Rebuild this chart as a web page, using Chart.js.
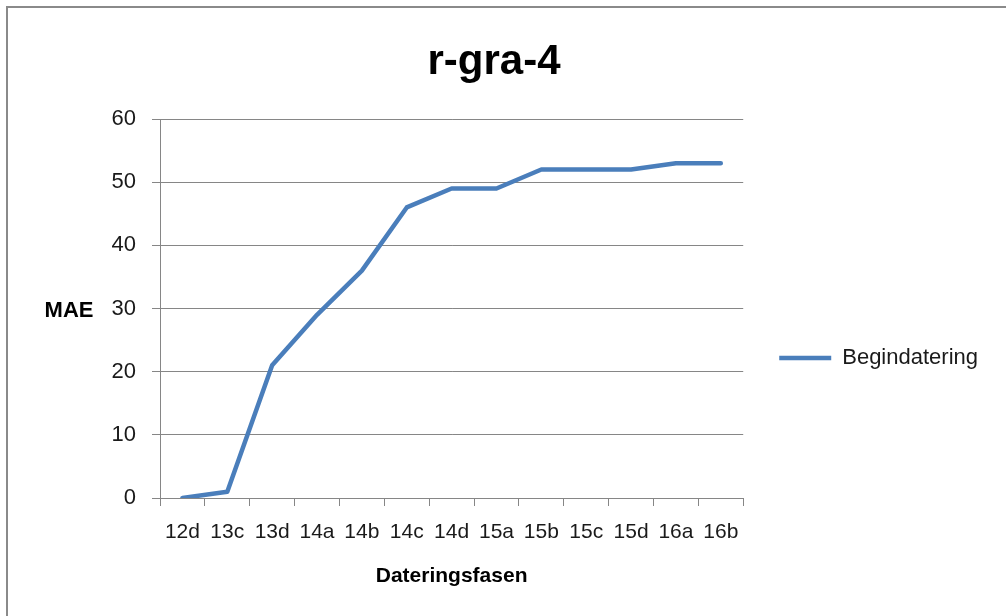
<!DOCTYPE html>
<html lang="nl">
<head>
  <meta charset="UTF-8">
  <title>r-gra-4</title>
  <script src="https://cdn.jsdelivr.net/npm/chart.js"></script>
  <style>
    html, body {
      margin: 0;
      padding: 0;
      background: #fff;
      overflow: hidden;
    }
    #wrap {
      position: relative;
      width: 1006px;
      height: 616px;
    }
    canvas {
      position: absolute;
      left: 0;
      top: 0;
    }
    .frame {
      position: absolute;
      left: 6px;
      top: 6px;
      width: 1100px;
      height: 700px;
      border: 2px solid #8a8a8a;
      pointer-events: none;
    }
  </style>
</head>
<body>

<div id="wrap">
  <canvas id="mae" width="1006" height="616"></canvas>
  <div class="frame"></div>
</div>

<script>
  const categories = ["12d", "13c", "13d", "14a", "14b", "14c", "14d", "15a", "15b", "15c", "15d", "16a", "16b"];
  const begindatering = [0, 1, 21, 29, 36, 46, 49, 49, 52, 52, 52, 53, 53];
  const yTickValues = [0, 10, 20, 30, 40, 50, 60];

  const FONT = "'Liberation Sans', Arial, sans-serif";
  const GRID = "#868686";
  const TEXT = "#1a1a1a";
  const BLUE = "#4A7EBB";

  Chart.defaults.font.family = FONT;
  Chart.defaults.color = TEXT;

  // Excel puts the y title horizontally, left of the tick labels
  const yTitlePlugin = {
    id: "yTitle",
    afterDraw(chart) {
      const ca = chart.chartArea;
      const ctx = chart.ctx;
      ctx.save();
      ctx.font = "bold 22px " + FONT;
      ctx.fillStyle = "#000";
      ctx.textAlign = "center";
      ctx.textBaseline = "middle";
      ctx.fillText("MAE", ca.left - 91, (ca.top + ca.bottom) / 2 + 2);
      ctx.restore();
    }
  };

  const chart = new Chart(document.getElementById("mae").getContext("2d"), {
    type: "line",
    data: {
      labels: categories,
      datasets: [{
        label: "Begindatering",
        data: begindatering,
        borderColor: BLUE,
        backgroundColor: BLUE,
        borderWidth: 4.5,
        borderCapStyle: "round",
        borderJoinStyle: "round",
        tension: 0,
        pointRadius: 0,
        fill: false
      }]
    },
    options: {
      responsive: false,
      animation: false,
      layout: {
        padding: { left: 0, right: 18, top: 0, bottom: 0 }
      },
      plugins: {
        title: {
          display: true,
          text: "r-gra-4",
          color: "#000",
          font: { size: 42, weight: "bold" },
          padding: { top: 37, bottom: 31.6 }
        },
        legend: {
          position: "right",
          title: {
            display: true,
            text: " ",
            font: { size: 10 },
            padding: { top: 0, bottom: 88 }
          },
          labels: {
            usePointStyle: true,
            pointStyle: "line",
            pointStyleWidth: 52,
            padding: 36,
            color: TEXT,
            font: { size: 22 }
          }
        },
        tooltip: { enabled: false }
      },
      scales: {
        x: {
          offset: true,
          grid: {
            offset: true,
            drawOnChartArea: false,
            drawTicks: true,
            tickLength: 8,
            color: GRID
          },
          border: { display: true, color: GRID },
          ticks: {
            padding: 14,
            maxRotation: 0,
            autoSkip: false,
            font: { size: 21 }
          },
          title: {
            display: true,
            text: "Dateringsfasen",
            color: "#000",
            font: { size: 21, weight: "bold" },
            padding: { top: 0, bottom: 27 }
          },
          afterFit(scale) { scale.height = 118; }
        },
        y: {
          min: 0,
          max: 60,
          grid: {
            color: GRID,
            tickLength: 8
          },
          border: { display: true, color: GRID },
          ticks: {
            padding: 16,
            font: { size: 22 }
          },
          afterBuildTicks(scale) {
            scale.ticks = yTickValues.map(v => ({ value: v }));
          },
          afterFit(scale) { scale.width = 160; }
        }
      }
    },
    plugins: [yTitlePlugin]
  });
</script>

</body>
</html>
